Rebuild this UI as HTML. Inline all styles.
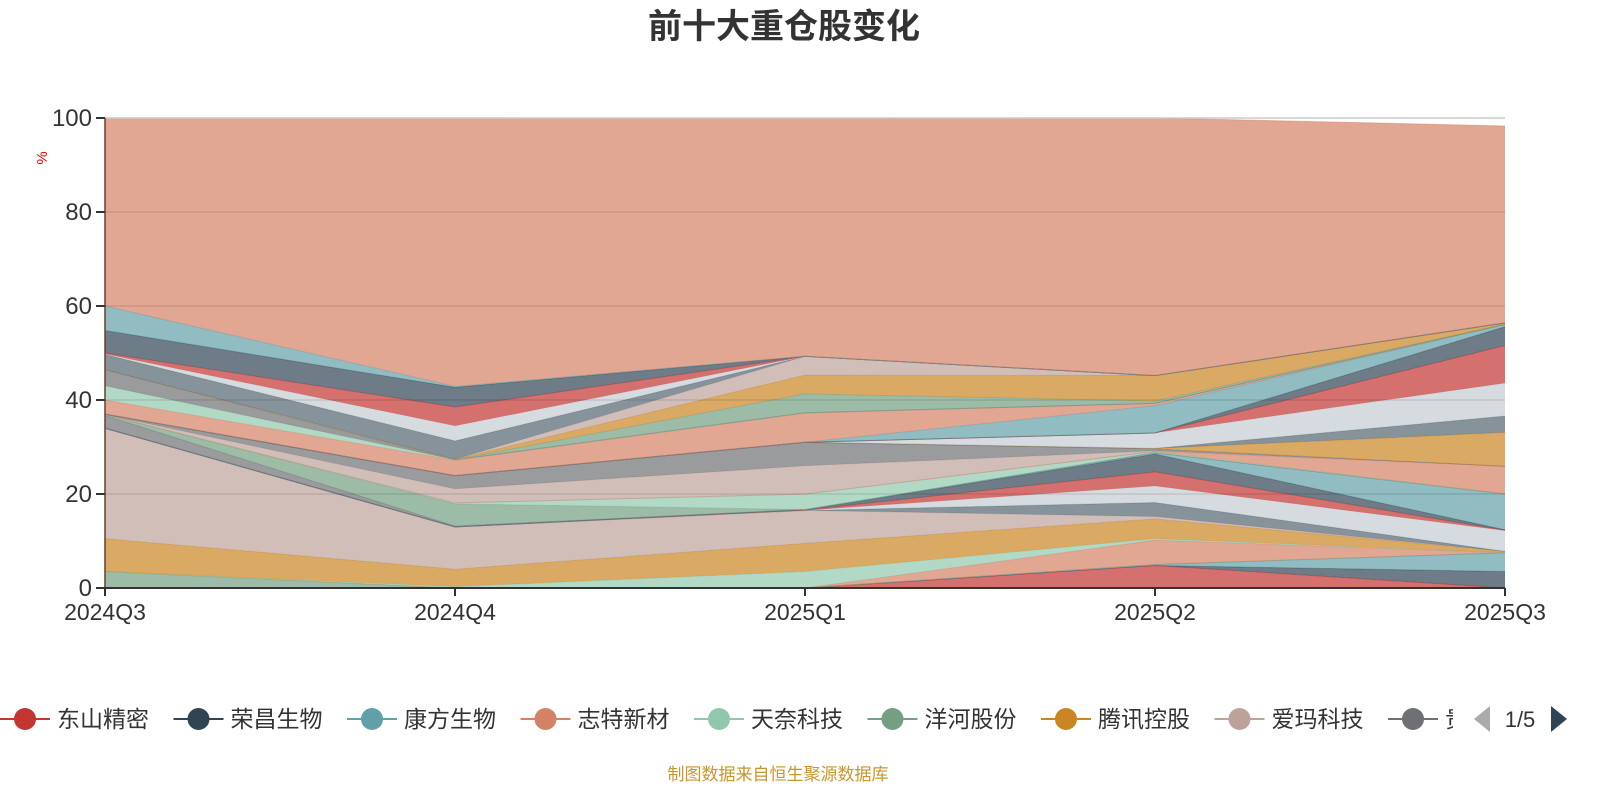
<!DOCTYPE html>
<html><head><meta charset="utf-8">
<style>
html,body{margin:0;padding:0;background:#fff;width:1600px;height:800px;overflow:hidden;font-family:"Liberation Sans","Noto Sans CJK SC",sans-serif;}
svg text{font-family:"Liberation Sans","Noto Sans CJK SC",sans-serif;}
</style></head>
<body>
<svg id="chart" width="1600" height="800" xmlns="http://www.w3.org/2000/svg">
<text x="784" y="38" text-anchor="middle" font-size="34" font-weight="bold" fill="#333">前十大重仓股变化</text>
<text x="47" y="158" font-size="15" fill="#e00" transform="rotate(-90 47 158)" text-anchor="middle">%</text>
<g id="areas"></g>
<g id="grid"></g>
<g id="axes"></g>
<g id="legend"></g>
<text x="778" y="780" text-anchor="middle" font-size="17" fill="#c8962a">制图数据来自恒生聚源数据库</text>
</svg>
<script>
const categories = ['2024Q3','2024Q4','2025Q1','2025Q2','2025Q3'];
const yTicks = [0,20,40,60,80,100];
const palette = ['#c23531','#2f4554','#61a0a8','#d48265','#91c7ae','#749f83','#ca8622','#bda29a','#6e7074','#546570','#c4ccd3'];
const legendNames = ['东山精密','荣昌生物','康方生物','志特新材','天奈科技','洋河股份','腾讯控股','爱玛科技','贵'];
// stacked series bottom -> top
const s01 = [0.0,0.0,0.0,4.8,0.0];
const s02 = [0.0,0.0,0.0,0.0,3.5];
const s03 = [0.0,0.0,0.0,0.2,4.0];
const s04 = [3.5,0.0,0.0,0.0,0.0];
const s05 = [0.0,0.0,0.0,5.2,0.0];
const s06 = [0.0,0.3,3.5,0.3,0.0];
const s07 = [7.0,3.7,6.0,4.2,0.3];
const s08 = [23.5,9.0,7.0,0.5,0.0];
const s09 = [0.0,0.0,0.0,3.0,0.0];
const s10 = [0.0,0.0,0.0,3.5,4.4];
const s11 = [0.0,0.0,0.1,3.0,0.1];
const s12 = [0.0,0.0,0.1,3.8,0.1];
const s13 = [0.0,0.0,0.0,0.3,7.6];
const s14 = [2.7,0.2,0.0,0.0,0.0];
const s15 = [0.2,4.7,0.0,0.0,0.0];
const s16 = [0.0,0.2,3.3,0.2,0.0];
const s17 = [0.0,0.0,0.0,0.1,5.9];
const s18 = [0.0,3.0,6.0,0.1,0.0];
const s19 = [0.1,2.8,5.0,0.4,0.0];
const s20 = [0.0,0.0,0.0,0.1,7.2];
const s21 = [0.0,0.0,0.0,0.0,3.5];
const s22 = [0.0,0.0,0.0,3.3,7.0];
const s23 = [0.0,0.0,0.0,0.0,8.0];
const s24 = [0.0,0.0,0.0,0.0,4.0];
const s25 = [0.0,0.0,0.0,5.8,0.5];
const s26 = [3.0,3.3,6.2,0.5,0.0];
const s27 = [3.0,0.1,0.1,0.0,0.0];
const s28 = [3.4,0.0,0.0,0.0,0.0];
const s29 = [0.0,0.0,4.0,0.5,0.0];
const s30 = [0.0,0.1,4.0,5.4,0.3];
const s36 = [0.0,0.0,4.0,0.0,0.0];
const s31 = [3.3,3.9,0.0,0.0,0.0];
const s32 = [0.1,3.2,0.0,0.0,0.0];
const s33 = [0.2,4.0,0.0,0.0,0.0];
const s34 = [4.8,4.2,0.0,0.0,0.0];
const s35 = [5.2,0.2,0.0,0.0,0.0];
const s37 = [40.0,57.1,50.6,54.8,41.9];
const seriesList = [s01,s02,s03,s04,s05,s06,s07,s08,s09,s10,s11,s12,s13,s14,s15,s16,s17,s18,s19,s20,s21,s22,s23,s24,s25,s26,s27,s28,s29,s30,s36,s31,s32,s33,s34,s35,s37];
const seriesColor = [0,1,2,5,3,4,6,7,9,10,0,1,2,8,5,4,3,7,8,6,9,10,0,1,2,3,4,8,5,6,7,9,10,0,1,2,3];

const NS='http://www.w3.org/2000/svg';
const X0=105,X1=1505,Y0=588,Y1=118;
const xs=i=>X0+(X1-X0)*i/(categories.length-1);
const ys=v=>Y0-(Y0-Y1)*v/100;
function mk(tag,attrs,parent){const e=document.createElementNS(NS,tag);for(const k in attrs)e.setAttribute(k,attrs[k]);parent.appendChild(e);return e;}
const areas=document.getElementById('areas');
let base=categories.map(()=>0);
seriesList.forEach((vals,si)=>{
  const top=vals.map((v,i)=>base[i]+v);
  let d='M'+top.map((v,i)=>xs(i)+','+ys(v)).join(' L');
  for(let i=categories.length-1;i>=0;i--)d+=' L'+xs(i)+','+ys(base[i]);
  d+='Z';
  const c=palette[seriesColor[si]];
  const p=mk('path',{d:d,fill:c,'fill-opacity':0.7,stroke:'none'},areas);
  
  
  const l=mk('path',{d:'M'+top.map((v,i)=>xs(i)+','+ys(v)).join(' L'),fill:'none',stroke:c,'stroke-opacity':0.5,'stroke-width':1},areas);
  
  
  base=top;
});
const grid=document.getElementById('grid');
yTicks.forEach(t=>{
  if(t===0)return;
  const g=mk('line',{x1:X0,x2:X1,y1:ys(t),y2:ys(t),stroke:t===100?'#ccc':'#000','stroke-opacity':t===100?1:0.1,'stroke-width':1.5},grid);
  
  
});
const axes=document.getElementById('axes');
const ya=mk('line',{x1:X0,x2:X0,y1:Y1,y2:Y0,stroke:'#6b3f2a','stroke-width':1.5},axes);


const xa=mk('line',{x1:X0,x2:X1,y1:Y0,y2:Y0,stroke:'#333','stroke-width':2},axes);


yTicks.forEach(t=>{
  const tk=mk('line',{x1:X0-9,x2:X0,y1:ys(t),y2:ys(t),stroke:'#333','stroke-width':2},axes);
  
  
  const tx=mk('text',{x:X0-13,y:ys(t)+8,'text-anchor':'end','font-size':24,fill:'#333'},axes);
  tx.textContent=t;
  
  
});
categories.forEach((c,i)=>{
  const tk=mk('line',{x1:xs(i),x2:xs(i),y1:Y0,y2:Y0+8,stroke:'#333','stroke-width':2},axes);
  
  
  const tx=mk('text',{x:xs(i),y:Y0+32,'text-anchor':'middle','font-size':23,fill:'#333'},axes);
  tx.textContent=c;
  
  
});
const legend=document.getElementById('legend');
legendNames.forEach((n,i)=>{
  const x=i*173.5;
  const g=mk('g',{},legend);
  
  
  mk('line',{x1:x,x2:x+50,y1:719,y2:719,stroke:palette[i],'stroke-width':2},g);
  mk('circle',{cx:x+25,cy:719,r:11,fill:palette[i]},g);
  const t=mk('text',{x:x+57,y:727,'font-size':23,fill:'#333'},g);
  t.textContent=n;
});
const clip=mk('rect',{x:1453,y:700,width:20,height:40,fill:'#fff'},legend);


const pl=mk('path',{d:'M1490,706 L1474,719 L1490,732Z',fill:'#aaa'},legend);


const pt=mk('text',{x:1520,y:727,'font-size':22,fill:'#333','text-anchor':'middle'},legend);
pt.textContent='1/5';


const pn=mk('path',{d:'M1551,706 L1567,719 L1551,732Z',fill:'#2f4554'},legend);


</script>
</body></html>
